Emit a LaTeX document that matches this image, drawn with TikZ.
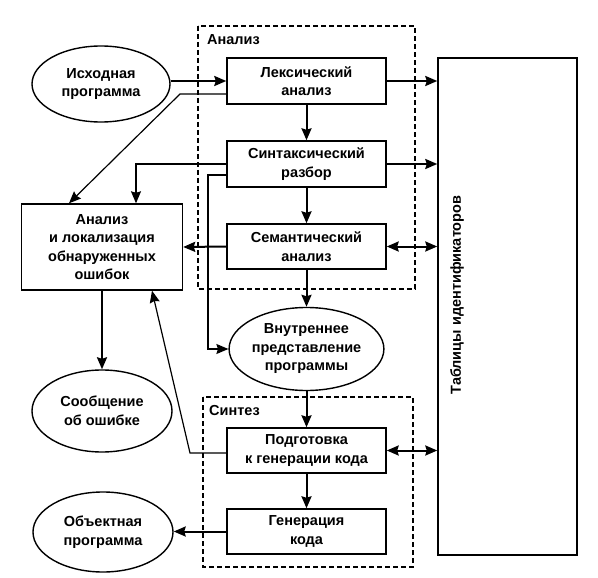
\documentclass[tikz,border=0pt]{standalone}
\usepackage{fontspec}
\setmainfont{Liberation Sans}
\usetikzlibrary{arrows.meta,shapes.geometric}
\begin{document}
\begin{tikzpicture}[x=1pt,y=-1pt,
  font=\fontsize{14.5}{18.5}\selectfont\bfseries,
  box/.style={draw,line width=1.4pt,rectangle,align=center,inner sep=0pt},
  oval/.style={draw,line width=1.4pt,ellipse,align=center,inner sep=0pt},
  grp/.style={draw,line width=1.2pt,dash pattern=on 5pt off 3pt},
  arr/.style={line width=2pt,-{Stealth[length=12pt,width=10pt,inset=1.5pt]}},
  darr/.style={line width=2pt,{Stealth[length=12pt,width=10pt,inset=1.5pt]}-{Stealth[length=12pt,width=10pt,inset=1.5pt]}},
  tarr/.style={line width=1.2pt,-{Stealth[length=12pt,width=10pt,inset=1.5pt]}},
  lbl/.style={anchor=west,inner sep=0pt}]
\useasboundingbox (0,0) rectangle (598,578);
% group frames
\draw[grp] (198,26) rectangle (415,289);
\node[lbl] (la) at (207,40) {Анализ};
\draw[grp] (203,397) rectangle (413,567);
\node[lbl] (ls) at (209,411) {Синтез};
% nodes
\node[oval,minimum width=138pt,minimum height=76pt] (src) at (101,84) {Исходная\\программа};
\node[box,minimum width=159pt,minimum height=46pt] (lex) at (306.5,81) {Лексический\\анализ};
\node[box,minimum width=159pt,minimum height=46pt] (syn) at (306.5,164) {Синтаксический\\разбор};
\node[box,minimum width=159pt,minimum height=45pt] (sem) at (306.5,246.5) {Семантический\\анализ};
\node[box,minimum width=161pt,minimum height=86pt] (err) at (102,247) {Анализ\\и локализация\\обнаруженных\\ошибок};
\node[oval,minimum width=142pt,minimum height=83pt] (ir) at (306.5,349) {Внутреннее\\представление\\программы};
\node[oval,minimum width=140pt,minimum height=82pt] (msg) at (102,411) {Сообщение\\об ошибке};
\node[box,minimum width=159pt,minimum height=45pt] (prep) at (306.5,450.5) {Подготовка\\к генерации кода};
\node[box,minimum width=159pt,minimum height=45pt] (gen) at (306.5,531.5) {Генерация\\кода};
\node[oval,minimum width=140pt,minimum height=80pt] (obj) at (103,532) {Объектная\\программа};
\node[box,minimum width=139pt,minimum height=497pt] (tab) at (507.5,306.5) {};
\node[rotate=90,inner sep=0pt] (tabtxt) at (457,295) {Таблицы идентификаторов};
% connectors
\draw[arr] (src.east |- lex.west) -- (lex.west);
\draw[tarr] (lex.west |- 0,94) -- (180,94) -- (err.north -| 69,0);
\draw[tarr] (syn.west |- 0,164) -- (136,164) -- (err.north -| 136,0);
\draw[tarr] (syn.west |- 0,175) -- (208,175) |- (ir.west);
\draw[arr] (sem.west) -- (err.east);
\draw[arr] (lex.south) -- (syn.north);
\draw[arr] (syn.south) -- (sem.north);
\draw[arr] (sem.south) -- (ir.north);
\draw[arr] (ir.south) -- (prep.north);
\draw[arr] (prep.south) -- (gen.north);
\draw[arr] (gen.west) -- (obj.east |- gen.west);
\draw[arr] (err.south) -- (msg.north);
\draw[tarr] (prep.west |- 0,453) -- (190,453) -- (err.south -| 152,0);
\draw[arr] (lex.east) -- (tab.west |- lex.east);
\draw[arr] (syn.east) -- (tab.west |- syn.east);
\draw[darr] (sem.east) -- (tab.west |- sem.east);
\draw[darr] (prep.east) -- (tab.west |- prep.east);
\end{tikzpicture}
\end{document}
